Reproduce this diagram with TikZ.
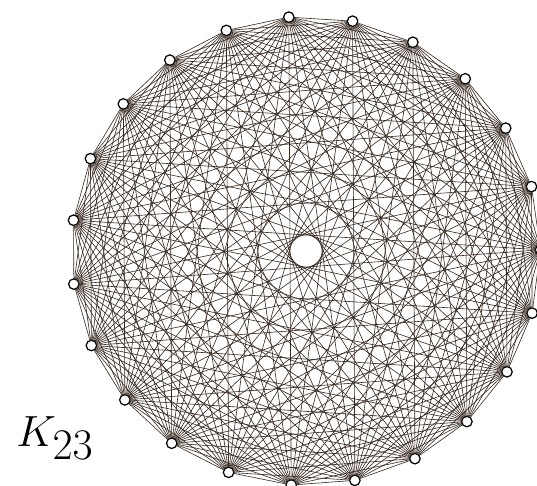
\documentclass[tikz,border=0pt]{standalone}
\usepackage{tikz}
\usetikzlibrary{calc}

\begin{document}
\begin{tikzpicture}[x=0.02cm,y=0.02cm,every node/.style={outer sep=0pt}]

\tikzstyle{vertex}=[circle,draw=black,fill=white,line width=0.7pt,inner sep=0pt,minimum size=0.21cm]
\tikzstyle{edge}=[line width=0.35pt,draw={rgb,255:red,55;green,42;blue,33}]

\useasboundingbox (0,0) rectangle (537,486);

\coordinate (c) at (306,235);
\foreach \i in {0,...,22}
  \node (v\i) at ($(c)+({94.2-360/23*\i}:234.5)$) [vertex] {};

\foreach \i in {0,...,21}{
  \pgfmathtruncatemacro{\nxt}{\i+1}
  \foreach \k in {\nxt,...,22}
    \draw [edge] (v\i) -- (v\k);
}

\node (name) at (55,48) {\fontsize{34}{40}\selectfont $K_{23}$};

\end{tikzpicture}
\end{document}
